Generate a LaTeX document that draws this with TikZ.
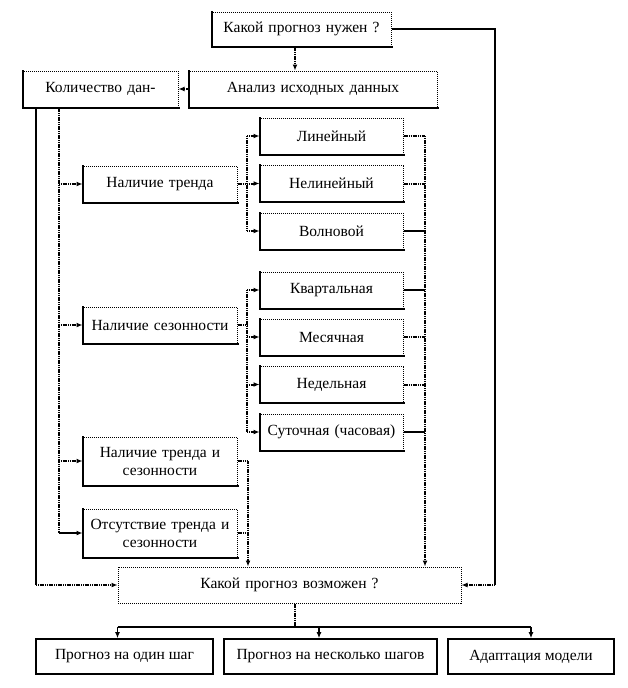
\documentclass[tikz,border=0pt]{standalone}
\usepackage{fontspec}
\setmainfont{Liberation Serif}
\usetikzlibrary{
    arrows.meta,%
    calc,%
    positioning%
}

\begin{document}
\begin{tikzpicture}[x=1pt,y=-1pt,
    font=\fontsize{15.5}{18}\selectfont,
    block/.style={draw, densely dotted, line width=1pt, inner sep=0pt,
        minimum height=36pt, text width=#1, minimum width=#1, align=center},
    block/.default=154pt,
    plainblock/.style={draw, line width=1.6pt, inner sep=0pt,
        minimum height=35pt, minimum width=#1, align=center},
    heavy/.style={line width=2pt, line cap=rect},
    dotline/.style={line width=2pt, dash pattern=on 1.2pt off 0.6pt},
    solidline/.style={line width=1.8pt},
    >={Latex[length=6pt,width=5pt]}]

    \useasboundingbox (0,0) rectangle (627,688);

    %%% top part
    \node[block=179pt, minimum height=34pt] (need) at (301.5,29) {Какой прогноз нужен ?};
    \node[block=248pt] (anal) at (313,89) {Анализ исходных данных};
    \node[block=155pt] (kol) at (100.5,89) {Количество дан-};

    %%% left column
    \node[block] (trend) at (160,184) {Наличие тренда};
    \node[block] (season) at (160,325) {Наличие сезонности};
    \node[block, minimum height=48pt] (both) at (160,461) {Наличие тренда и\\сезонности};
    \node[block, minimum height=48pt] (none) at (160,533) {Отсутствие тренда и\\сезонности};

    %%% right column
    \node[block=143pt] (lin) at (331.5,136) {Линейный};
    \node[block=143pt] (nonlin) at (331.5,183.5) {Нелинейный};
    \node[block=143pt] (wave) at (331.5,231) {Волновой};
    \node[block=143pt] (quart) at (331.5,290) {Квартальная};
    \node[block=143pt] (month) at (331.5,337) {Месячная};
    \node[block=143pt] (week) at (331.5,384.5) {Недельная};
    \node[block=143pt] (day) at (331.5,432) {Суточная (часовая)};

    %%% bottom part
    \node[block=343pt] (poss) at (289.5,585) {Какой прогноз возможен ?};
    \node[plainblock=177pt] (one) at (124.5,656.5) {Прогноз на один шаг};
    \node[plainblock=213pt] (many) at (330.5,656.5) {Прогноз на несколько шагов};
    \node[plainblock=166pt] (adapt) at (531,656.5) {Адаптация модели};

    %%% heavy left and bottom edges
    \foreach \n in {need,anal,kol,trend,season,both,none,lin,nonlin,wave,quart,month,week,day}
        \draw[heavy] (\n.north west) -- (\n.south west) -- (\n.south east);

    \coordinate (lx) at (36,0);
    \coordinate (sx) at (59,0);
    \coordinate (tx) at (247,0);
    \coordinate (bx) at (248,0);
    \coordinate (cx) at (425,0);
    \coordinate (rx) at (495,0);
    \coordinate (bus) at (0,627);

    \draw[dotline,->] (need.south -| 295,0) -- (anal.north -| 295,0); %%% to analysis
    \draw[dotline,->] (anal.west) -- (kol.east);

    \draw[solidline] (need.east) -| (rx |- poss.east); %%% right outer line
    \draw[dotline,->] (rx |- poss.east) -- (poss.east);

    \draw[solidline] (kol.south -| lx) -- (lx |- poss.west); %%% left outer line
    \draw[dotline,->] (lx |- poss.west) -- (poss.west);

    \draw[dotline] (kol.south -| sx) -- (sx |- none.west); %%% left spine
    \foreach \n in {trend,season,both}
        \draw[dotline,->] (sx |- \n.west) -- (\n.west);
    \draw[solidline,->] (sx |- none.west) -- (none.west);

    \draw[dotline] (trend.east) -- (tx |- trend.east); %%% trend kinds
    \draw[dotline] (tx |- lin.west) -- (tx |- wave.west);
    \foreach \n in {lin,nonlin,wave}
        \draw[dotline,->] (tx |- \n.west) -- (\n.west);

    \draw[dotline] (season.east) -- (tx |- season.east); %%% season kinds
    \draw[dotline] (tx |- quart.west) -- (tx |- day.west);
    \foreach \n in {quart,month,week,day}
        \draw[dotline,->] (tx |- \n.west) -- (\n.west);

    \foreach \n in {lin,nonlin,month,week} %%% right collector
        \draw[dotline] (\n.east) -- (cx |- \n.east);
    \foreach \n in {wave,quart,day}
        \draw[solidline] (\n.east) -- (cx |- \n.east);
    \draw[dotline,->] (cx |- lin.east) -- (cx |- poss.north);

    \draw[dotline,->] (both.east) -| (bx |- poss.north); %%% both and none
    \draw[dotline] (none.east) -- (bx |- none.east);

    \draw[dotline] (poss.south -| 295,0) -- (bus -| 295,0); %%% to the results
    \draw[solidline] (bus -| poss.west) -- (bus -| adapt.north);
    \draw[solidline,->] (bus -| poss.west) -- (one.north -| poss.west);
    \draw[solidline,->] (bus -| 319,0) -- (many.north -| 319,0);
    \draw[solidline,->] (bus -| adapt.north) -- (adapt.north);
\end{tikzpicture}
\end{document}
